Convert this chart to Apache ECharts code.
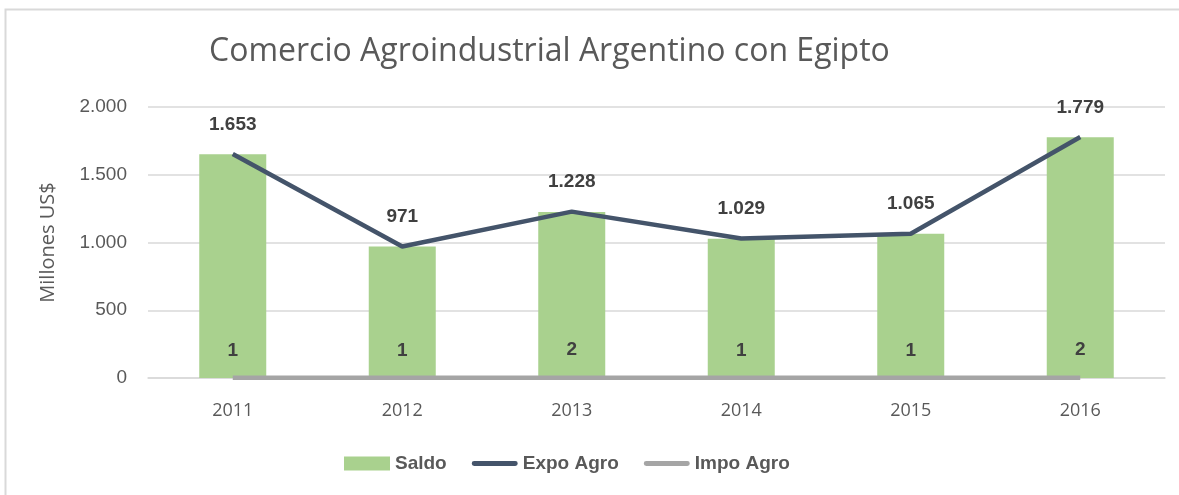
<!DOCTYPE html>
<html>
<head>
<meta charset="utf-8">
<script src="https://cdn.jsdelivr.net/npm/echarts@6/dist/echarts.min.js"></script>
<style>
  html, body { margin: 0; padding: 0; background: #ffffff; }
  #chart { width: 1179px; height: 495px; }
</style>
</head>
<body>
<div id="chart"></div>
<script>
// Comercio agroindustrial Argentina - Egipto (millones de US$)
const years = ['2011', '2012', '2013', '2014', '2015', '2016'];
const expoAgro = [1653, 971, 1228, 1029, 1065, 1779];
const impoAgro = [1, 1, 2, 1, 1, 2];
const saldo = [1652, 970, 1226, 1028, 1064, 1777];
const yTicks = [0, 500, 1000, 1500, 2000];

const fmt = v => String(v).replace(/\B(?=(\d{3})+(?!\d))/g, '.');

const labelFont = 'Liberation Sans, Arial, sans-serif';
const lineIcon = 'path://M2.5,0 L44.5,0 A2.5,2.5 0 0 1 44.5,5 L2.5,5 A2.5,2.5 0 0 1 2.5,0 Z';
const chart = echarts.init(document.getElementById('chart'));

chart.setOption({
  animation: false,
  backgroundColor: '#ffffff',
  title: {
    text: 'Comercio Agroindustrial Argentino con Egipto',
    left: 204,
    top: 31,
    textStyle: {
      fontFamily: 'Open Sans, sans-serif',
      fontWeight: 'normal',
      fontSize: 32,
      color: '#595959'
    }
  },
  graphic: [{
    type: 'rect',
    shape: { x: 5.5, y: 9.5, width: 1300, height: 600 },
    style: { fill: 'none', stroke: '#d9d9d9', lineWidth: 2 },
    silent: true
  }],
  legend: {
    bottom: 22,
    left: 344,
    padding: 0,
    itemGap: 25,
    itemWidth: 46,
    itemHeight: 14,
    textStyle: {
      fontFamily: labelFont,
      fontWeight: 'bold',
      fontSize: 19,
      color: '#595959'
    },
    data: [
      { name: 'Saldo', icon: 'rect' },
      { name: 'Expo Agro', icon: lineIcon },
      { name: 'Impo Agro', icon: lineIcon }
    ]
  },
  grid: { left: 148, right: 14, top: 107, bottom: 117, containLabel: false },
  xAxis: {
    type: 'category',
    data: years,
    axisLine: { show: true, lineStyle: { color: '#d9d9d9', width: 1.5 } },
    axisTick: { show: false },
    axisLabel: {
      margin: 24,
      fontFamily: 'Open Sans, sans-serif',
      fontSize: 18,
      color: '#595959'
    }
  },
  yAxis: {
    type: 'value',
    min: yTicks[0],
    max: yTicks[yTicks.length - 1],
    interval: 500,
    name: 'Millones US$',
    nameLocation: 'middle',
    nameGap: 90,
    nameRotate: 90,
    nameTextStyle: {
      fontFamily: 'Open Sans, sans-serif',
      fontSize: 20,
      color: '#595959'
    },
    axisLine: { show: false },
    axisTick: { show: false },
    splitLine: { lineStyle: { color: '#d9d9d9', width: 1.5 } },
    axisLabel: {
      margin: 21,
      fontFamily: labelFont,
      fontSize: 19,
      color: '#595959',
      formatter: v => fmt(v)
    }
  },
  series: [
    {
      name: 'Saldo',
      type: 'bar',
      data: saldo,
      barWidth: 67,
      itemStyle: { color: '#a9d18e' },
      z: 1
    },
    {
      name: 'Expo Agro',
      type: 'line',
      data: expoAgro,
      symbol: 'circle',
      symbolSize: 0,
      showSymbol: true,
      lineStyle: { color: '#44546a', width: 4.5 },
      itemStyle: { color: '#44546a' },
      label: {
        show: true,
        position: 'top',
        distance: 20,
        fontFamily: labelFont,
        fontWeight: 'bold',
        fontSize: 19,
        color: '#404040',
        formatter: p => fmt(p.value)
      },
      z: 3
    },
    {
      name: 'Impo Agro',
      type: 'line',
      data: impoAgro,
      symbol: 'circle',
      symbolSize: 0,
      showSymbol: true,
      lineStyle: { color: '#a5a5a5', width: 4.5 },
      itemStyle: { color: '#a5a5a5' },
      label: {
        show: true,
        position: 'top',
        distance: 18,
        fontFamily: labelFont,
        fontWeight: 'bold',
        fontSize: 19,
        color: '#404040',
        formatter: p => fmt(p.value)
      },
      z: 2
    }
  ]
});
</script>
</body>
</html>
